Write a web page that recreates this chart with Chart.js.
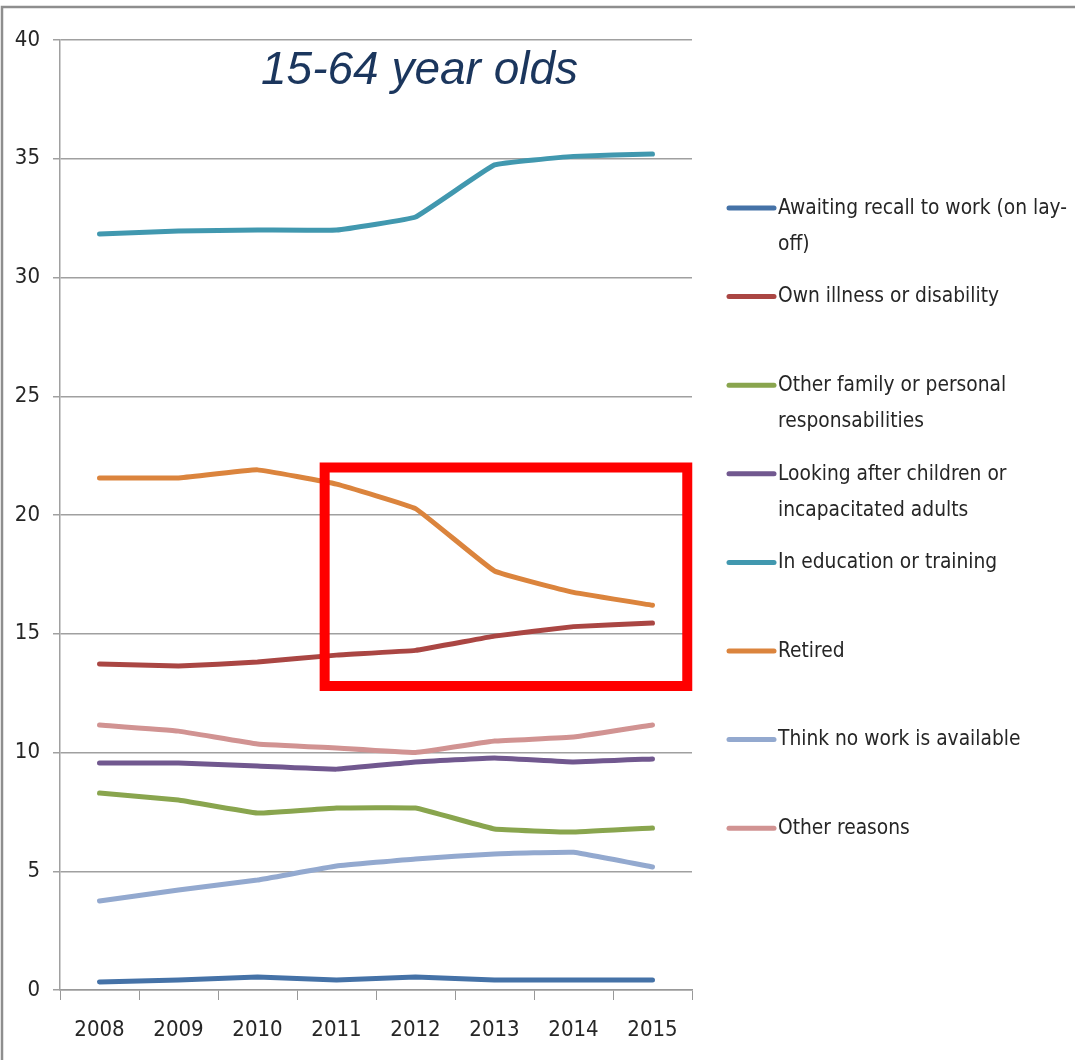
<!DOCTYPE html>
<html>
<head>
<meta charset="utf-8">
<title>Reasons for inactivity, 15-64 year olds</title>
<script src="https://cdn.jsdelivr.net/npm/chart.js@4.4.1/dist/chart.umd.min.js"></script>
<style>
  html, body { margin: 0; padding: 0; background: #fff; }
  #wrap { width: 1075px; height: 1060px; position: relative; }
</style>
</head>
<body>
<div id="wrap"><canvas id="myChart" width="1075" height="1060"></canvas></div>
<script>
// years on the x axis
var years = ['2008', '2009', '2010', '2011', '2012', '2013', '2014', '2015'];

// share of the inactive population (%) per reason
var awaitingRecall = [0.34, 0.42, 0.55, 0.42, 0.55, 0.42, 0.42, 0.42];
var ownIllness     = [13.73, 13.64, 13.81, 14.1, 14.3, 14.9, 15.3, 15.45];
var familyResp     = [8.29, 8.0, 7.45, 7.66, 7.66, 6.78, 6.65, 6.82];
var lookingAfter   = [9.56, 9.56, 9.43, 9.3, 9.6, 9.77, 9.6, 9.73];
var education      = [31.83, 31.96, 32.0, 32.0, 32.55, 34.74, 35.1, 35.2];
var retired        = [21.56, 21.56, 21.9, 21.3, 20.27, 17.64, 16.74, 16.2];
var noWork         = [3.75, 4.21, 4.63, 5.22, 5.52, 5.73, 5.8, 5.18];
var otherReasons   = [11.16, 10.9, 10.36, 10.19, 10.0, 10.48, 10.65, 11.16];

// legend text, already broken into lines
var legendLines = [
  ['Awaiting recall to work (on lay-', 'off)'],
  ['Own illness or disability'],
  ['Other family or personal', 'responsabilities'],
  ['Looking after children or', 'incapacitated adults'],
  ['In education or training'],
  ['Retired'],
  ['Think no work is available'],
  ['Other reasons']
];

var seriesValues = [awaitingRecall, ownIllness, familyResp, lookingAfter, education, retired, noWork, otherReasons];
var seriesColors = ['#4572A7', '#AA4643', '#89A54E', '#71588F', '#4198AF', '#DB843D', '#93A9CF', '#D19392'];

// highlighted area: category index range and value range
var boxFromIndex = 2.85, boxToIndex = 7.44;
var boxMin = 12.8, boxMax = 22.0;

var textFont = "'DejaVu Sans Condensed', 'Open Sans', sans-serif";
var textColor = '#262626';

var decorations = {
  id: 'decorations',
  beforeDraw: function (chart) {
    var c = chart.ctx;
    c.save();
    // outer frame, top and left edges
    c.strokeStyle = '#8e8e8e';
    c.lineWidth = 2.5;
    c.beginPath();
    c.moveTo(2, 1060);
    c.lineTo(2, 7);
    c.lineTo(1075, 7);
    c.stroke();
    c.restore();
  },
  afterDraw: function (chart) {
    var c = chart.ctx;
    var x = chart.scales.x, y = chart.scales.y;
    c.save();

    // title inside the plot
    c.fillStyle = '#1B365D';
    c.font = "italic 46px 'Liberation Sans', Arial, sans-serif";
    c.textAlign = 'left';
    c.textBaseline = 'alphabetic';
    c.fillText('15-64 year olds', 261, 84);

    // red highlight box
    var l = x.getPixelForValue(boxFromIndex), r = x.getPixelForValue(boxToIndex);
    var t = y.getPixelForValue(boxMax), b = y.getPixelForValue(boxMin);
    c.strokeStyle = '#FF0000';
    c.lineWidth = 10;
    c.strokeRect(l, t, r - l, b - t);

    // legend on the right, text squeezed to a narrow face
    c.font = '22px ' + textFont;
    c.textBaseline = 'middle';
    var squeeze = 289 / c.measureText(legendLines[0][0]).width;
    chart.data.datasets.forEach(function (ds, i) {
      var ly = 208 + i * 88.6;
      c.strokeStyle = ds.borderColor;
      c.lineWidth = 5;
      c.lineCap = 'round';
      c.beginPath();
      c.moveTo(729, ly);
      c.lineTo(774, ly);
      c.stroke();
      c.fillStyle = textColor;
      legendLines[i].forEach(function (line, j) {
        c.save();
        c.translate(778, ly + j * 36);
        c.scale(squeeze, 1);
        c.fillText(line, 0, 0);
        c.restore();
      });
    });
    c.restore();
  }
};

var ctx = document.getElementById('myChart').getContext('2d');
var myChart = new Chart(ctx, {
  type: 'line',
  data: {
    labels: years,
    datasets: seriesValues.map(function (vals, i) {
      return {
        label: legendLines[i].join(''),
        data: vals,
        borderColor: seriesColors[i],
        backgroundColor: seriesColors[i],
        borderWidth: 5,
        borderCapStyle: 'round',
        borderJoinStyle: 'round',
        pointRadius: 0,
        tension: 0.08,
        fill: false
      };
    })
  },
  options: {
    responsive: false,
    animation: false,
    layout: { padding: { top: 40, right: 383, left: 0, bottom: 0 } },
    plugins: {
      legend: { display: false },
      tooltip: { enabled: false }
    },
    scales: {
      x: {
        offset: true,
        grid: {
          offset: true,
          drawOnChartArea: false,
          drawTicks: true,
          tickLength: 10,
          color: '#999999'
        },
        border: { color: '#999999', width: 1.5 },
        ticks: {
          color: textColor,
          font: { family: textFont, size: 22 },
          padding: 17,
          maxRotation: 0
        },
        afterFit: function (scale) { scale.height = 70; }
      },
      y: {
        min: 0,
        max: 40,
        ticks: {
          stepSize: 5,
          color: textColor,
          font: { family: textFont, size: 22 },
          padding: 13
        },
        grid: {
          color: '#A0A0A0',
          lineWidth: 1.5,
          tickLength: 7
        },
        border: { color: '#A0A0A0', width: 1.5 },
        afterFit: function (scale) { scale.width = 60; }
      }
    }
  },
  plugins: [decorations]
});
</script>
</body>
</html>
